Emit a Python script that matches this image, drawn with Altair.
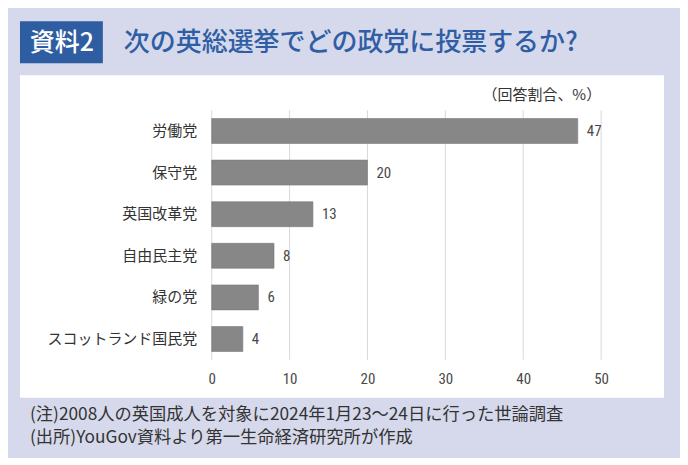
import altair as alt
import pandas as pd

parties = ["労働党", "保守党", "英国改革党", "自由民主党", "緑の党", "スコットランド国民党"]
shares = [47, 20, 13, 8, 6, 4]
x_ticks = [0, 10, 20, 30, 40, 50]

title_tag = "資料2"
title_text = "次の英総選挙でどの政党に投票するか?"
unit_text = "（回答割合、%）"
note1 = "(注)2008人の英国成人を対象に2024年1月23～24日に行った世論調査"
note2 = "(出所)YouGov資料より第一生命経済研究所が作成"

df = pd.DataFrame({"party": parties, "share": shares})
ticks_df = pd.DataFrame({"share": x_ticks})

JP = "Noto Sans CJK JP"
NUM = "Liberation Sans Narrow, Roboto Condensed, Noto Sans CJK JP"
BLUE = "#2f5ea5"

one = pd.DataFrame({"k": [0]})

panel = alt.Chart(one).mark_rect(color="white").encode(
    x=alt.value(-192), x2=alt.value(453), y=alt.value(-35), y2=alt.value(288)
)
tagbox = alt.Chart(one).mark_rect(color="#2e5da2").encode(
    x=alt.value(-192), x2=alt.value(-109), y=alt.value(-89), y2=alt.value(-47)
)
tag = alt.Chart(one).mark_text(
    text=title_tag, font=JP, fontSize=25, fontWeight=500, color="white",
    align="center", baseline="middle"
).encode(x=alt.value(-150), y=alt.value(-67))
title = alt.Chart(one).mark_text(
    text=title_text, font=JP, fontSize=26, fontWeight=500, color=BLUE,
    align="left", baseline="middle"
).encode(x=alt.value(-88), y=alt.value(-67))
unit = alt.Chart(one).mark_text(
    text=unit_text, font=JP, fontSize=15, color="#333333",
    align="right", baseline="middle"
).encode(x=alt.value(390), y=alt.value(-15))
n1 = alt.Chart(one).mark_text(
    text=note1, font=JP, fontSize=17.3, color="#333333",
    align="left", baseline="middle"
).encode(x=alt.value(-182), y=alt.value(305))
n2 = alt.Chart(one).mark_text(
    text=note2, font=JP, fontSize=17.3, color="#333333",
    align="left", baseline="middle"
).encode(x=alt.value(-182), y=alt.value(328))

xscale = alt.Scale(domain=[0, 50], nice=False)

grid = alt.Chart(ticks_df).mark_rule(color="#d9d9d9", strokeWidth=1).encode(
    x=alt.X(
        "share:Q", scale=xscale,
        axis=alt.Axis(
            values=x_ticks, title=None, domain=False, ticks=False, grid=False,
            labelFont=NUM, labelFontSize=15, zindex=1, labelFlush=False,
            labelColor="#4a4a4a", labelPadding=12,
        ),
    ),
    y=alt.value(0), y2=alt.value(250),
)

yenc = alt.Y(
    "party:N", sort=parties,
    scale=alt.Scale(paddingInner=0.4, paddingOuter=0.2),
    axis=alt.Axis(
        title=None, domain=False, ticks=False, labelFont=JP, zindex=1,
        labelFontSize=15, labelColor="#333333", labelPadding=15,
    ),
)

bars = alt.Chart(df).mark_bar(color="#878787", stroke="#7a7a7a", strokeWidth=0.6).encode(
    x=alt.X("share:Q", scale=xscale), y=yenc
)
labels = alt.Chart(df).mark_text(
    align="left", baseline="middle", dx=9, font=NUM, fontSize=15, color="#4a4a4a"
).encode(x="share:Q", y=alt.Y("party:N", sort=parties), text="share:Q")

chart = alt.layer(panel, tagbox, tag, title, unit, n1, n2, grid, bars, labels).properties(
    width=390, height=250,
    autosize=alt.AutoSizeParams(type="none"),
    padding={"left": 204, "top": 102, "right": 79, "bottom": 98},
    background="#d6d9eb",
).configure_view(stroke=None)

chart.save("out.html", embed_options={"renderer": "svg", "actions": False})
